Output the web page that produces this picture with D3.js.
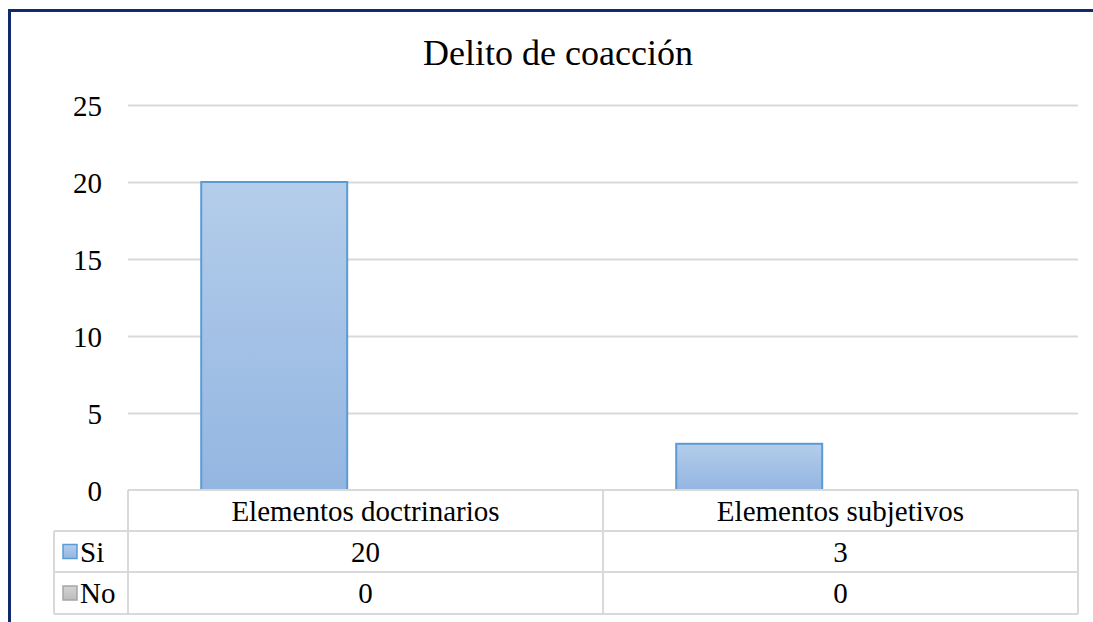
<!DOCTYPE html>
<html>
<head>
<meta charset="utf-8">
<script src="https://cdn.jsdelivr.net/npm/d3@7"></script>
<style>
  body { margin: 0; background: #fff; }
  svg { display: block; font-family: "Liberation Serif", "Times New Roman", serif; }
</style>
</head>
<body>
<div id="chart"></div>
<script>
// data
var title = 'Delito de coacción';
var categories = ['Elementos doctrinarios', 'Elementos subjetivos'];
var series = ['Si', 'No'];
var siValues = [20, 3];
var noValues = [0, 0];
var yTicks = [0, 5, 10, 15, 20, 25];

var values = { Si: siValues, No: noValues };
var colors = {
  Si: { top: '#b4cdea', bottom: '#93b6e1', stroke: '#5b9bd5' },
  No: { top: '#d4d4d4', bottom: '#bdbdbd', stroke: '#a5a5a5' }
};

var W = 1093, H = 622;
var plot = { left: 128, right: 1078, top: 105, bottom: 490 };
var rowH = [41, 41, 42];
var legendLeft = 54;
var fontFam = '"Liberation Serif", "Times New Roman", serif';

var svg = d3.select('#chart').append('svg')
  .attr('width', W)
  .attr('height', H);

var defs = svg.append('defs');
series.forEach(function (s) {
  var g = defs.append('linearGradient')
    .attr('id', 'grad-' + s)
    .attr('x1', 0).attr('y1', 0).attr('x2', 0).attr('y2', 1);
  g.append('stop').attr('offset', '0%').attr('stop-color', colors[s].top);
  g.append('stop').attr('offset', '100%').attr('stop-color', colors[s].bottom);
});

// outer frame
svg.append('rect')
  .attr('x', 9.5).attr('y', 10.5)
  .attr('width', W + 20).attr('height', H + 20)
  .attr('fill', 'none')
  .attr('stroke', '#112a6b')
  .attr('stroke-width', 3);

svg.append('text')
  .attr('x', 558)
  .attr('y', 65)
  .attr('text-anchor', 'middle')
  .style('font-family', fontFam)
  .style('font-size', '36px')
  .text(title);

var y = d3.scaleLinear()
  .domain([0, 25])
  .range([plot.bottom, plot.top]);

var x0 = d3.scaleBand()
  .domain(categories)
  .range([plot.left, plot.right])
  .paddingInner(0)
  .paddingOuter(0);

var x1 = d3.scaleBand()
  .domain(series)
  .range([0, x0.bandwidth()])
  .paddingInner(0)
  .paddingOuter(0.627)
  .align(0.4);

// gridlines + y labels
var yAxis = svg.append('g')
  .attr('transform', 'translate(' + plot.left + ',0)')
  .call(d3.axisLeft(y).tickValues(yTicks).tickSize(-(plot.right - plot.left)).tickPadding(26));
yAxis.attr('font-family', null).attr('font-size', null);
yAxis.select('.domain').remove();
yAxis.selectAll('.tick line')
  .attr('stroke', '#d9d9d9')
  .attr('stroke-width', 2)
  .attr('display', function (d) { return d === 0 ? 'none' : null; });
yAxis.selectAll('.tick text')
  .attr('fill', '#000')
  .attr('dy', '0.35em')
  .style('font-family', fontFam)
  .style('font-size', '29px');

// bars
var groups = svg.append('g').selectAll('g')
  .data(categories)
  .enter()
  .append('g')
  .attr('transform', function (d) { return 'translate(' + x0(d) + ',0)'; });

groups.selectAll('rect')
  .data(function (d, i) {
    return series.map(function (s) { return { s: s, v: values[s][i] }; });
  })
  .enter()
  .append('rect')
  .filter(function (d) { return d.v > 0; })
  .attr('x', function (d) { return x1(d.s); })
  .attr('y', function (d) { return y(d.v); })
  .attr('width', x1.bandwidth())
  .attr('height', function (d) { return y(0) - y(d.v); })
  .attr('fill', function (d) { return 'url(#grad-' + d.s + ')'; })
  .attr('stroke', function (d) { return colors[d.s].stroke; })
  .attr('stroke-width', 2);

// data table
var table = svg.append('g').attr('stroke', '#d9d9d9').attr('stroke-width', 2).attr('fill', 'none');
var rowY = [plot.bottom, plot.bottom + rowH[0], plot.bottom + rowH[0] + rowH[1], plot.bottom + rowH[0] + rowH[1] + rowH[2]];

// horizontal lines
table.append('line').attr('x1', plot.left).attr('x2', plot.right).attr('y1', rowY[0]).attr('y2', rowY[0]);
[1, 2, 3].forEach(function (i) {
  table.append('line').attr('x1', legendLeft).attr('x2', plot.right).attr('y1', rowY[i]).attr('y2', rowY[i]);
});
// vertical lines
table.append('line').attr('x1', legendLeft).attr('x2', legendLeft).attr('y1', rowY[1]).attr('y2', rowY[3]);
x0.domain().forEach(function (c) {
  table.append('line').attr('x1', x0(c)).attr('x2', x0(c)).attr('y1', rowY[0]).attr('y2', rowY[3]);
});
table.append('line').attr('x1', plot.right).attr('x2', plot.right).attr('y1', rowY[0]).attr('y2', rowY[3]);

// category labels
svg.append('g').selectAll('text')
  .data(categories)
  .enter()
  .append('text')
  .attr('x', function (d) { return x0(d) + x0.bandwidth() / 2; })
  .attr('y', (rowY[0] + rowY[1]) / 2)
  .attr('dy', '0.35em')
  .attr('text-anchor', 'middle')
  .style('font-family', fontFam)
  .style('font-size', '29px')
  .text(function (d) { return d; });

// series rows
series.forEach(function (s, r) {
  var cy = (rowY[r + 1] + rowY[r + 2]) / 2;
  svg.append('rect')
    .attr('x', 63).attr('y', cy - 7)
    .attr('width', 14).attr('height', 14)
    .attr('fill', 'url(#grad-' + s + ')')
    .attr('stroke', colors[s].stroke)
    .attr('stroke-width', 1.5);
  svg.append('text')
    .attr('x', 80)
    .attr('y', cy)
    .attr('dy', '0.35em')
    .style('font-family', fontFam)
    .style('font-size', '29px')
    .text(s);
  svg.append('g').selectAll('text')
    .data(categories)
    .enter()
    .append('text')
    .attr('x', function (d) { return x0(d) + x0.bandwidth() / 2; })
    .attr('y', cy)
    .attr('dy', '0.35em')
    .attr('text-anchor', 'middle')
    .style('font-family', fontFam)
    .style('font-size', '29px')
    .text(function (d, i) { return values[s][i]; });
});
</script>
</body>
</html>
